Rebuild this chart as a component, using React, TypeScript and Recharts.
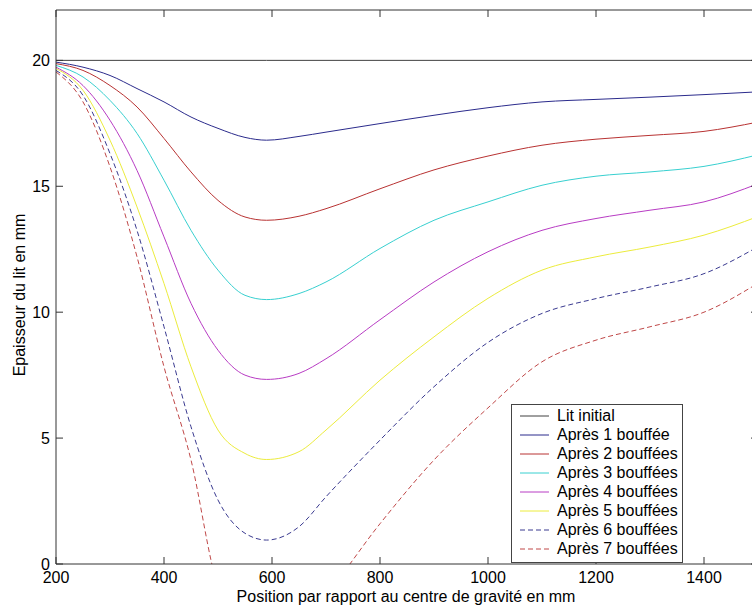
import * as React from 'react';
import { LineChart, Line, XAxis, YAxis } from 'recharts';

// positions (mm) along the bed
const positions = [200, 250, 300, 350, 400, 450, 500, 550, 590, 650, 700, 800, 900, 1000, 1100, 1200, 1300, 1400, 1500];

// bed thickness (mm) after each puff
const litInitial = [20, 20, 20, 20, 20, 20, 20, 20, 20, 20, 20, 20, 20, 20, 20, 20, 20, 20, 20];
const apres1 = [19.93, 19.73, 19.4, 18.88, 18.35, 17.75, 17.3, 16.94, 16.83, 16.98, 17.15, 17.49, 17.82, 18.12, 18.35, 18.45, 18.54, 18.64, 18.75];
const apres2 = [19.87, 19.6, 19.0, 18.15, 16.9, 15.57, 14.44, 13.78, 13.65, 13.81, 14.11, 14.9, 15.65, 16.2, 16.63, 16.87, 17.02, 17.18, 17.55];
const apres3 = [19.8, 19.34, 18.41, 17.1, 15.24, 13.25, 11.67, 10.67, 10.5, 10.74, 11.2, 12.53, 13.65, 14.38, 15.04, 15.4, 15.57, 15.79, 16.25];
const apres4 = [19.73, 19.0, 17.62, 15.63, 12.99, 10.35, 8.49, 7.5, 7.33, 7.57, 8.15, 9.7, 11.2, 12.4, 13.25, 13.72, 14.05, 14.38, 15.1];
const apres5 = [19.68, 18.81, 16.83, 14.18, 11.14, 7.83, 5.32, 4.39, 4.15, 4.46, 5.32, 7.3, 9.02, 10.55, 11.67, 12.2, 12.59, 13.06, 13.8];
const apres6 = [19.6, 18.61, 16.3, 13.25, 9.42, 5.45, 2.54, 1.22, 0.95, 1.48, 2.67, 4.92, 7.04, 8.8, 9.95, 10.54, 11.0, 11.53, 12.6];
const apres7 = [19.54, 18.35, 15.77, 12.2, 7.83, 4.13, -0.9, -2.4, -2.8, -2.3, -1.2, 1.6, 4.13, 6.2, 8.03, 8.89, 9.42, 10.0, 11.15];

const xTicks = [200, 400, 600, 800, 1000, 1200, 1400];
const yTicks = [0, 5, 10, 15, 20];

const series = [
  { key: 'lit', name: 'Lit initial', values: litInitial, color: '#404040', dash: undefined },
  { key: 'a1', name: 'Après 1 bouffée', values: apres1, color: '#2b2b8c', dash: undefined },
  { key: 'a2', name: 'Après 2 bouffées', values: apres2, color: '#b83232', dash: undefined },
  { key: 'a3', name: 'Après 3 bouffées', values: apres3, color: '#38d0d0', dash: undefined },
  { key: 'a4', name: 'Après 4 bouffées', values: apres4, color: '#b83cc4', dash: undefined },
  { key: 'a5', name: 'Après 5 bouffées', values: apres5, color: '#ecec3c', dash: undefined },
  { key: 'a6', name: 'Après 6 bouffées', values: apres6, color: '#3a3a90', dash: '5 3' },
  { key: 'a7', name: 'Après 7 bouffées', values: apres7, color: '#c04848', dash: '5 3' },
];

const data = positions.map((x, i) => {
  const row: any = { x };
  series.forEach(s => { row[s.key] = s.values[i]; });
  return row;
});

const FONT = '"Liberation Sans", Arial, sans-serif';
const AXIS = '#333';
const TICK = 7;

// MATLAB style ticks: drawn inside the box
const BottomTick = (props: any) => {
  const { x, y, payload } = props;
  return (
    <g>
      <line x1={x} y1={y} x2={x} y2={y - TICK} stroke={AXIS} />
      <text x={x} y={y + 19} textAnchor="middle" fontSize={16} fontFamily={FONT} fill="#000">{payload.value}</text>
    </g>
  );
};
const LeftTick = (props: any) => {
  const { x, y, payload } = props;
  return (
    <g>
      <line x1={x} y1={y} x2={x + TICK} y2={y} stroke={AXIS} />
      <text x={x - 6} y={y + 6} textAnchor="end" fontSize={16} fontFamily={FONT} fill="#000">{payload.value}</text>
    </g>
  );
};
const TopTick = (props: any) => {
  const { x, y } = props;
  return <line x1={x} y1={y} x2={x} y2={y + TICK} stroke={AXIS} />;
};
const RightTick = (props: any) => {
  const { x, y } = props;
  return <line x1={x} y1={y} x2={x - TICK} y2={y} stroke={AXIS} />;
};

const LegendBox = () => (
  <div style={{
    position: 'absolute', left: 511, top: 404, width: 170, height: 156,
    border: '1px solid #444', background: '#fff', paddingTop: 1,
    fontFamily: FONT, fontSize: 16, color: '#000',
  }}>
    {series.map(s => (
      <div key={s.key} style={{ display: 'flex', alignItems: 'center', height: 19 }}>
        <svg width={45} height={19} style={{ flex: 'none' }}>
          <line x1={8} y1={10} x2={37} y2={10} stroke={s.color} strokeWidth={1} strokeDasharray={s.dash} />
        </svg>
        <span style={{ lineHeight: '19px', whiteSpace: 'nowrap' }}>{s.name}</span>
      </div>
    ))}
  </div>
);

export default function App() {
  return (
    <div style={{ position: 'fixed', left: 0, top: 0, width: 752, height: 613, overflow: 'hidden', background: '#fff' }}>
      <LineChart width={780} height={613} data={data} margin={{ top: 9, right: 21, bottom: 0, left: 0 }}>
        <XAxis
          dataKey="x" type="number" domain={[200, 1500]} allowDataOverflow
          ticks={xTicks} interval={0} height={49} tickSize={0} tickMargin={0}
          stroke={AXIS} tickLine={false} tick={<BottomTick />}
        />
        <XAxis
          xAxisId="top" orientation="top" dataKey="x" type="number" domain={[200, 1500]} allowDataOverflow
          ticks={xTicks} interval={0} height={1} tickSize={0} tickMargin={0}
          stroke={AXIS} tickLine={false} tick={<TopTick />}
        />
        <YAxis
          type="number" domain={[0, 22]} allowDataOverflow ticks={yTicks} interval={0}
          width={56} tickSize={0} tickMargin={0} stroke={AXIS} tickLine={false} tick={<LeftTick />}
        />
        <YAxis
          yAxisId="right" orientation="right" type="number" domain={[0, 22]} allowDataOverflow ticks={yTicks} interval={0}
          width={1} tickSize={0} tickMargin={0} stroke={AXIS} tickLine={false} tick={<RightTick />}
        />
        {/* invisible series so the top and right axes of the box get drawn */}
        <Line
          xAxisId="top" yAxisId="right" dataKey="lit" stroke="none" legendType="none"
          dot={false} activeDot={false} isAnimationActive={false}
        />
        {series.map(s => (
          <Line
            key={s.key} dataKey={s.key} name={s.name} type="monotone"
            stroke={s.color} strokeWidth={1} strokeDasharray={s.dash}
            dot={false} activeDot={false} isAnimationActive={false}
          />
        ))}
      </LineChart>
      <div style={{
        position: 'absolute', left: 406, top: 589, transform: 'translateX(-50%)', lineHeight: '16px',
        fontFamily: FONT, fontSize: 16, whiteSpace: 'nowrap', color: '#000',
      }}>
        Position par rapport au centre de gravité en mm
      </div>
      <div style={{
        position: 'absolute', left: 20, top: 295, transform: 'translate(-50%, -50%) rotate(-90deg)', lineHeight: '16px',
        fontFamily: FONT, fontSize: 16, whiteSpace: 'nowrap', color: '#000',
      }}>
        Epaisseur du lit en mm
      </div>
      <LegendBox />
    </div>
  );
}
